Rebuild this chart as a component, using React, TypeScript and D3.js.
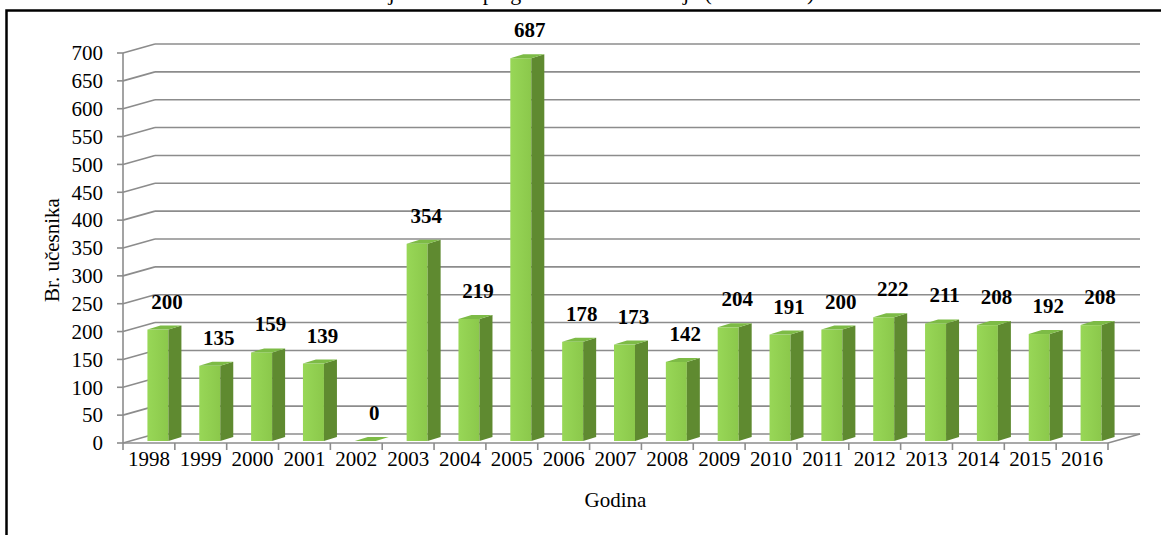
import React from "react";
import * as d3 from "d3";

// values
const years = ["1998", "1999", "2000", "2001", "2002", "2003", "2004", "2005", "2006", "2007", "2008", "2009", "2010", "2011", "2012", "2013", "2014", "2015", "2016"];
const participants = [200, 135, 159, 139, 0, 354, 219, 687, 178, 173, 142, 204, 191, 200, 222, 211, 208, 192, 208];
const yTicks = [0, 50, 100, 150, 200, 250, 300, 350, 400, 450, 500, 550, 600, 650, 700];

const width = 1161;
const height = 535;
const margin = { top: 53, right: 53, bottom: 92, left: 123 };

// 3D offsets (wall depth and bar depth)
const wallDx = 32;
const wallDy = -9;
const barFrontDx = 9;
const barFrontDy = -2;
const barW = 21;
const barDx = 13;
const barDy = -4;

const font = "'Liberation Serif', 'Times New Roman', serif";
const gridColor = "#8c8c8c";

const App = () => {
  const x = d3
    .scaleBand()
    .domain(years)
    .range([margin.left, width - margin.right])
    .padding(0);
  const y = d3
    .scaleLinear()
    .domain([0, 700])
    .range([height - margin.bottom, margin.top]);

  const x0 = margin.left;
  const x1 = width - margin.right;
  const y0 = y(0);

  const bars = years.map((yr, i) => {
    const v = participants[i];
    const cx = x(yr) + x.bandwidth() / 2;
    const left = cx + barFrontDx - barW / 2;
    const right = left + barW;
    const bottom = y0 + barFrontDy;
    const top = y(v) + barFrontDy;
    return { yr, v, cx, left, right, bottom, top };
  });

  return (
    <svg
      width={width}
      height={height}
      style={{ position: "absolute", left: 0, top: 0, background: "#fff" }}
      fontFamily={font}
    >
      <defs>
        <linearGradient id="front" x1="0" x2="1" y1="0" y2="0">
          <stop offset="0" stopColor="#98d757" />
          <stop offset="1" stopColor="#8bc84b" />
        </linearGradient>
      </defs>

      {/* cut-off title */}
      <text x={585} y={0} textAnchor="middle" fontSize={22} fill="#000">
        Broj učesnika po godinama održavanja (1998-2016)
      </text>

      {/* chart border */}
      <rect x={6.5} y={10.5} width={1300} height={700} fill="none" stroke="#000" strokeWidth={2.5} />

      {/* back wall gridlines + side wall diagonals */}
      {yTicks.map((t) => (
        <g key={t}>
          <line x1={x0 + wallDx} x2={x1 + wallDx} y1={y(t) + wallDy} y2={y(t) + wallDy} stroke={gridColor} strokeWidth={1.6} />
          <line x1={x0} x2={x0 + wallDx} y1={y(t)} y2={y(t) + wallDy} stroke={gridColor} strokeWidth={1.6} />
          <line x1={x0 - 6} x2={x0} y1={y(t)} y2={y(t)} stroke={gridColor} strokeWidth={1.6} />
          <text x={103} y={y(t)} dy="0.35em" textAnchor="end" fontSize={21} fill="#000">
            {t}
          </text>
        </g>
      ))}

      {/* y axis line */}
      <line x1={x0} x2={x0} y1={y(0)} y2={y(700)} stroke={gridColor} strokeWidth={1.6} />

      {/* floor front edge + right diagonal */}
      <line x1={x0} x2={x1} y1={y0} y2={y0} stroke={gridColor} strokeWidth={1.6} />
      <line x1={x1} x2={x1 + wallDx} y1={y0} y2={y0 + wallDy} stroke={gridColor} strokeWidth={1.6} />

      {/* category ticks */}
      {[...years.map((yr) => x(yr)), x1].map((tx, i) => (
        <line key={i} x1={tx} x2={tx} y1={y0} y2={y0 + 7} stroke={gridColor} strokeWidth={1.6} />
      ))}

      {/* bars */}
      {bars.map((b) => (
        <g key={b.yr}>
          {b.v > 0 && (
            <>
              <rect x={b.left} y={b.top} width={barW} height={b.bottom - b.top} fill="url(#front)" />
              <polygon
                points={`${b.right},${b.top} ${b.right + barDx},${b.top + barDy} ${b.right + barDx},${b.bottom + barDy} ${b.right},${b.bottom}`}
                fill="#5f8a30"
              />
            </>
          )}
          <polygon
            points={`${b.left},${b.top} ${b.right},${b.top} ${b.right + barDx},${b.top + barDy} ${b.left + barDx},${b.top + barDy}`}
            fill="#7dbb46"
          />
        </g>
      ))}

      {/* value labels */}
      {bars.map((b) => (
        <text
          key={b.yr}
          x={b.cx + 18}
          y={b.top - 21}
          textAnchor="middle"
          fontSize={21}
          fontWeight="bold"
          fill="#000"
        >
          {b.v}
        </text>
      ))}

      {/* category labels */}
      {years.map((yr) => (
        <text key={yr} x={x(yr) + x.bandwidth() / 2} y={466} textAnchor="middle" fontSize={21} fill="#000">
          {yr}
        </text>
      ))}

      {/* axis titles */}
      <text x={(x0 + x1) / 2} y={507} textAnchor="middle" fontSize={21} fill="#000">
        Godina
      </text>
      <text transform="translate(59,250) rotate(-90)" textAnchor="middle" fontSize={21} fill="#000">
        Br. učesnika
      </text>
    </svg>
  );
};

export default App;
